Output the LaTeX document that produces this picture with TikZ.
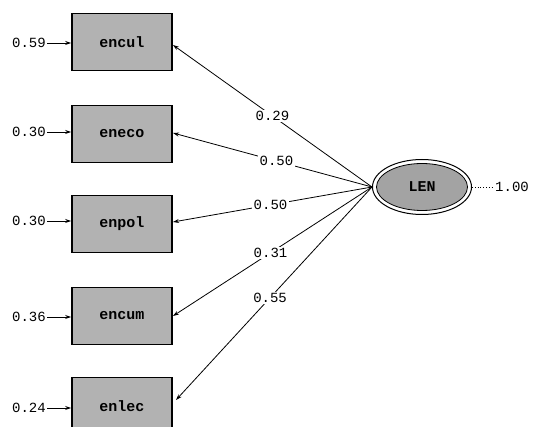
\documentclass[tikz,border=0pt]{standalone}
\usepackage{fontspec}
\newfontfamily\monof{Liberation Mono}
\usetikzlibrary{arrows.meta,shapes.geometric}
\begin{document}
\begin{tikzpicture}[x=1pt,y=-1pt,
  obs/.style={draw=black,line width=1.6pt,fill=gray!60,minimum width=100pt,minimum height=57pt,inner sep=0pt,font=\monof\bfseries\fontsize{15}{15}\selectfont},
  lat/.style={ellipse,draw=black,line width=0.8pt,fill=gray!72,minimum width=91pt,minimum height=47pt,inner sep=0pt,font=\monof\bfseries\fontsize{15}{15}\selectfont},
  latout/.style={ellipse,draw=black,line width=1pt,minimum width=99pt,minimum height=55pt,inner sep=0pt},
  num/.style={font=\monof\fontsize{14}{14}\selectfont,inner sep=1pt},
  lab/.style={num,fill=white,inner sep=1.5pt},
  arr/.style={-{Stealth[length=6pt,width=4pt]},line width=0.8pt},
  errarr/.style={-{Stealth[length=6pt,width=4pt]},line width=0.8pt}
]
\useasboundingbox (0,0) rectangle (533,427);
\node[obs] (encul) at (122,42) {encul};
\node[obs] (eneco) at (122,134) {eneco};
\node[obs] (enpol) at (122,224) {enpol};
\node[obs] (encum) at (122,316) {encum};
\node[obs] (enlec) at (122,406) {enlec};
\node[latout] (LENo) at (422,187) {};
\node[lat] (LEN) at (422,187) {LEN};
\coordinate (src) at (LENo.west);
\node[num,anchor=east] (e1) at (47,43) {0.59};
\node[num,anchor=east] (e2) at (47,132) {0.30};
\node[num,anchor=east] (e3) at (47,221) {0.30};
\node[num,anchor=east] (e4) at (47,317) {0.36};
\node[num,anchor=east] (e5) at (47,408) {0.24};
\draw[errarr] (e1) -- (encul.west|-e1);
\draw[errarr] (e2) -- (eneco.west|-e2);
\draw[errarr] (e3) -- (enpol.west|-e3);
\draw[errarr] (e4) -- (encum.west|-e4);
\draw[errarr] (e5) -- (enlec.west|-e5);
\coordinate (t1) at (173,45);
\coordinate (t2) at (173,133);
\coordinate (t3) at (173,222);
\coordinate (t4) at (173,316);
\coordinate (t5) at (176,400);
\draw[arr] (src) -- node[lab,pos=0.5] {0.29} (t1);
\draw[arr] (src) -- node[lab,pos=0.48] {0.50} (t2);
\draw[arr] (src) -- node[lab,pos=0.51] {0.50} (t3);
\draw[arr] (src) -- node[lab,pos=0.51] {0.31} (t4);
\draw[arr] (src) -- node[lab,pos=0.52] {0.55} (t5);
\node[num,anchor=west] (v) at (494,187) {1.00};
\draw[dotted,line width=0.8pt] (LENo.east) -- (v);
\end{tikzpicture}
\end{document}
